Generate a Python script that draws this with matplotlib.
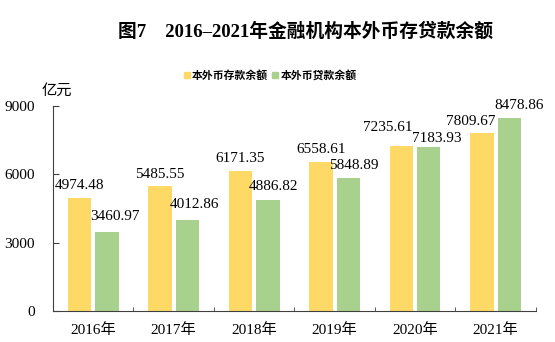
import numpy as np
import matplotlib
matplotlib.use("Agg")
import matplotlib.pyplot as plt
from matplotlib.lines import Line2D

# data
years = ["2016年", "2017年", "2018年", "2019年", "2020年", "2021年"]
deposits = [4974.48, 5485.55, 6171.35, 6558.61, 7235.61, 7809.67]
loans = [3460.97, 4012.86, 4886.82, 5848.89, 7183.93, 8478.86]
series_names = ["本外币存款余额", "本外币贷款余额"]
yticks = [0, 3000, 6000, 9000]

# label nudges (points)
dep_dx = [0, 0, 0, 0, -10, -8]
dep_dy = [4, 4, 4, 4, 9, 4]
loan_dx = [6, 5, 4, 4, 6, 7]
loan_dy = [7, 6, 5, 4, 2, 4]

serif = ["Liberation Serif", "Noto Sans CJK SC"]
yellow = "#FFD966"
green = "#A9D18E"
axis_col = "#404040"

fig = plt.figure(figsize=(5.55, 3.42), dpi=100)
ax = fig.add_axes([0.0955, 0.0906, 0.870, 0.599])

x = np.arange(len(years))
w = 0.29
off = 0.17
b1 = ax.bar(x - off, deposits, w, color=yellow)
b2 = ax.bar(x + off, loans, w, color=green)

for i in range(len(years)):
    ax.annotate(f"{deposits[i]:.2f}", (x[i] - off, deposits[i]),
                xytext=(dep_dx[i], dep_dy[i]), textcoords="offset points",
                ha="center", va="bottom", fontsize=11, family=serif)
    ax.annotate(f"{loans[i]:.2f}", (x[i] + off, loans[i]),
                xytext=(loan_dx[i], loan_dy[i]), textcoords="offset points",
                ha="center", va="bottom", fontsize=11, family=serif)

ax.set_xlim(-0.5, len(years) - 0.5)
ax.set_ylim(0, 9000)
ax.set_yticks(yticks)
ax.set_yticklabels([str(v) for v in yticks], family=serif, fontsize=11)
ax.set_xticks(x)
ax.set_xticklabels(years, family=serif, fontsize=11)
ax.set_xticks(np.arange(-0.5, len(years)), minor=True)
ax.tick_params(axis="x", which="major", length=0, pad=9)
ax.tick_params(axis="x", which="minor", direction="in", length=3, color=axis_col)
ax.tick_params(axis="y", direction="in", length=4, color=axis_col, pad=13)

for s in ["top", "right"]:
    ax.spines[s].set_visible(False)
for s in ["left", "bottom"]:
    ax.spines[s].set_color(axis_col)
    ax.spines[s].set_linewidth(0.8)

fig.text(57 / 555, 1 - 91 / 342, "亿元", family=serif, fontsize=11,
         ha="center", va="center")

fig.text(306 / 555, 1 - 31 / 342, "图7    2016–2021年金融机构本外币存贷款余额",
         family=serif, fontsize=13.5, fontweight="bold", ha="center", va="center")

handles = [Line2D([], [], ls="none", marker="s", ms=4, color=yellow),
           Line2D([], [], ls="none", marker="s", ms=4, color=green)]
fig.legend(handles, series_names, loc="center", ncol=2, frameon=False,
           bbox_to_anchor=(270 / 555, 1 - 75 / 342),
           prop={"family": "Noto Sans CJK SC", "size": 7.8, "weight": "bold"},
           handlelength=0.6, handletextpad=0.2, columnspacing=0.3)

fig.savefig("out.png", dpi=100)
